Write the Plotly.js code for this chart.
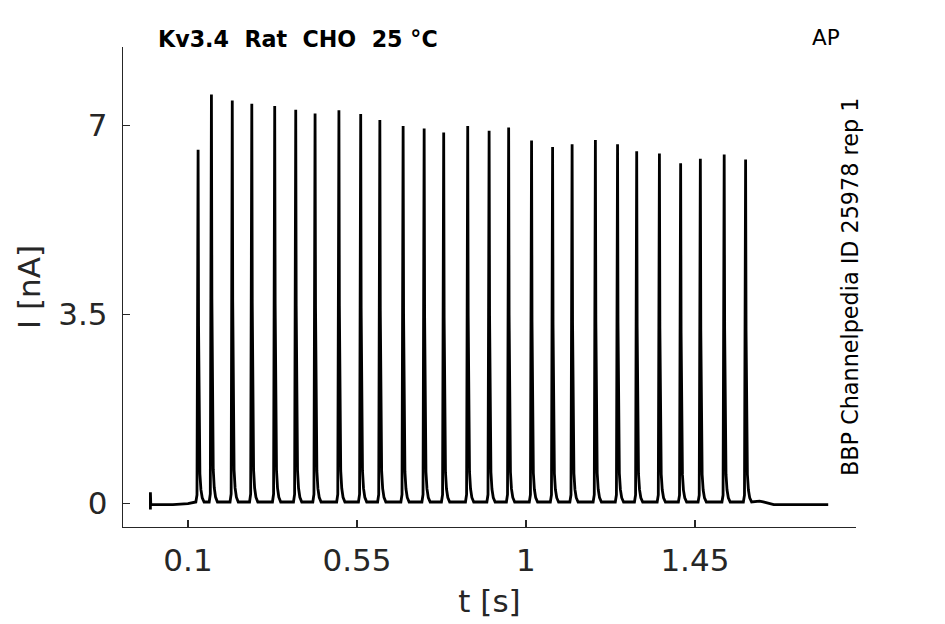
<!DOCTYPE html>
<html>
<head>
<meta charset="utf-8">
<script src="https://cdn.plot.ly/plotly-3.0.1.min.js"></script>
<style>html,body{margin:0;padding:0;background:#fff;}#chart{width:945px;height:624px;}</style>
</head>
<body>
<div id="chart"></div>
<script>
// Spike (AP-evoked current) peak times in seconds
const spikeTimes = [0.127, 0.1625, 0.218, 0.270, 0.331, 0.387, 0.4385, 0.502, 0.560, 0.611,
  0.673, 0.729, 0.781, 0.845, 0.902, 0.954, 1.015, 1.071, 1.123, 1.185,
  1.244, 1.295, 1.3555, 1.412, 1.4645, 1.528, 1.585];
// Peak currents in nA
const spikePeaks = [6.55, 7.57, 7.46, 7.40, 7.36, 7.29, 7.22, 7.28, 7.21, 7.10,
  6.99, 6.94, 6.87, 6.99, 6.90, 6.96, 6.72, 6.60, 6.65, 6.73,
  6.65, 6.52, 6.48, 6.30, 6.38, 6.46, 6.37];
// Baseline current between spikes (nA)
const interBaseline = 0.03;
// Shape of one spike: time offset from the peak (s) and fraction of peak height
const shapeOffsets = [-0.006, -0.003, -0.0015, 0, 0.0012, 0.0028, 0.0048, 0.0075, 0.011, 0.016];
const shapeFractions = [0, 0.02, 0.35, 1, 0.5, 0.2, 0.08, 0.035, 0.012, 0];
// Trace before the first spike (onset transient and holding baseline)
const preTimes = [0, 0, 0.001, 0.004, 0.06, 0.10, 0.115];
const preCurrent = [-0.11, 0.21, -0.02, -0.02, -0.02, 0.0, 0.03];
// Trace after the last spike
const postTimes = [1.612, 1.622, 1.632, 1.645, 1.66, 1.70, 1.805];
const postCurrent = [0.04, 0.045, 0.03, 0.005, -0.02, -0.02, -0.02];

const xTickVals = [0.1, 0.55, 1, 1.45];
const xTickText = ['0.1', '0.55', '1', '1.45'];
const yTickVals = [0, 3.5, 7];
const yTickText = ['0', '3.5', '7'];

// Build trace
const tx = preTimes.slice();
const ty = preCurrent.slice();
spikeTimes.forEach((t0, i) => {
  const pk = spikePeaks[i];
  shapeOffsets.forEach((off, j) => {
    tx.push(t0 + off);
    ty.push(interBaseline + shapeFractions[j] * (pk - interBaseline));
  });
});
postTimes.forEach((t, i) => { tx.push(t); ty.push(postCurrent[i]); });

const font = 'DejaVu Sans, sans-serif';
const axisColor = '#262626';

const data = [{
  x: tx, y: ty, type: 'scatter', mode: 'lines',
  line: {color: '#000000', width: 2.8},
  hoverinfo: 'skip', showlegend: false
}];

const layout = {
  width: 945, height: 624,
  paper_bgcolor: '#ffffff', plot_bgcolor: '#ffffff',
  margin: {l: 122.5, r: 89, t: 46.7, b: 97.3, pad: 0},
  showlegend: false,
  font: {family: font, color: axisColor},
  xaxis: {
    range: [-0.073, 1.879], showgrid: false, zeroline: false,
    showline: true, linecolor: axisColor, linewidth: 1.2, mirror: false,
    ticks: 'inside', ticklen: 7, tickwidth: 1.2, tickcolor: axisColor,
    tickvals: xTickVals, ticktext: xTickText,
    tickfont: {family: font, size: 31, color: axisColor},
    ticklabelstandoff: 6,
    title: {text: 't [s]', font: {family: font, size: 31, color: axisColor}, standoff: 12},
    automargin: false
  },
  yaxis: {
    range: [-0.433, 8.45], showgrid: false, zeroline: false,
    showline: true, linecolor: axisColor, linewidth: 1.2, mirror: false,
    ticks: 'inside', ticklen: 7, tickwidth: 1.2, tickcolor: axisColor,
    tickvals: yTickVals, ticktext: yTickText,
    tickfont: {family: font, size: 31, color: axisColor},
    ticklabelstandoff: 8,
    title: {text: 'I [nA]', font: {family: font, size: 31, color: axisColor}, standoff: 8},
    automargin: false
  },
  annotations: [
    {text: '<b>Kv3.4  Rat  CHO  25 °C</b>', xref: 'paper', yref: 'paper',
     x: 0.0455, y: 1.016, xanchor: 'left', yanchor: 'middle', showarrow: false,
     font: {family: font, size: 22.2, color: '#000000'}},
    {text: 'AP', xref: 'paper', yref: 'paper',
     x: 0.9594, y: 1.02, xanchor: 'center', yanchor: 'middle', showarrow: false,
     font: {family: font, size: 21.5, color: '#000000'}},
    {text: 'BBP Channelpedia ID 25978 rep 1', xref: 'paper', yref: 'paper',
     x: 0.9918, y: 0.5, xanchor: 'center', yanchor: 'middle', showarrow: false,
     textangle: -90,
     font: {family: font, size: 22.3, color: '#000000'}}
  ]
};

Plotly.newPlot('chart', data, layout, {staticPlot: true, displayModeBar: false});
</script>
</body>
</html>
